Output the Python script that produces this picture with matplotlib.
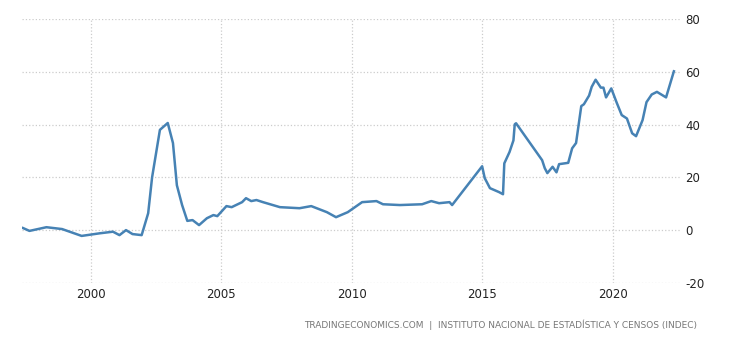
import matplotlib.pyplot as plt

plt.rcParams['axes.unicode_minus'] = False

# Argentina inflation rate, yearly % change (approximate readings)
years = [1997.4, 1997.65, 1998.3, 1998.9, 1999.65, 2000.35, 2000.85, 2001.1, 2001.35,
         2001.6, 2001.95, 2002.2, 2002.35, 2002.65, 2002.95, 2003.15, 2003.3, 2003.5,
         2003.7, 2003.9, 2004.15, 2004.45, 2004.7, 2004.85, 2005.2, 2005.4, 2005.8,
         2005.95, 2006.15, 2006.35, 2006.6, 2007.25, 2008.0, 2008.45, 2009.05, 2009.4,
         2009.85, 2010.4, 2010.95, 2011.2, 2011.85, 2012.7, 2013.05, 2013.35, 2013.75,
         2013.85, 2015.0, 2015.1, 2015.3, 2015.65, 2015.8, 2015.85, 2016.05, 2016.2,
         2016.25, 2016.3, 2017.3, 2017.4, 2017.5, 2017.7, 2017.85, 2017.95, 2018.3,
         2018.45, 2018.6, 2018.8, 2018.9, 2019.1, 2019.2, 2019.35, 2019.55, 2019.65,
         2019.75, 2019.95, 2020.15, 2020.35, 2020.55, 2020.75, 2020.9, 2021.15, 2021.3,
         2021.5, 2021.7, 2022.05, 2022.35]
rate = [0.8, -0.3, 1.1, 0.4, -2.2, -1.2, -0.6, -1.9, 0.0,
        -1.5, -1.9, 6.4, 20.0, 38.0, 40.6, 33.0, 17.0, 9.5,
        3.5, 3.8, 1.9, 4.5, 5.7, 5.3, 9.1, 8.7, 10.6,
        12.1, 11.0, 11.4, 10.6, 8.7, 8.3, 9.1, 6.8, 4.9,
        6.8, 10.6, 11.0, 9.8, 9.5, 9.8, 11.0, 10.2, 10.6,
        9.5, 24.2, 19.7, 15.9, 14.4, 13.6, 25.3, 29.6, 34.0,
        40.1, 40.5, 26.5, 23.5, 21.6, 24.0, 21.9, 25.0, 25.5,
        31.0, 33.0, 47.0, 47.7, 51.0, 54.3, 57.0, 54.0, 54.0,
        50.3, 53.7, 48.5, 43.6, 42.3, 36.7, 35.6, 41.7, 48.5,
        51.4, 52.4, 50.3, 60.2]

xticks = [2000, 2005, 2010, 2015, 2020]
yticks = [-20, 0, 20, 40, 60, 80]

fig = plt.figure(figsize=(7.3, 3.4), dpi=100)
ax = fig.add_axes([0.030, 0.168, 0.901, 0.776])

ax.plot(years, rate, color='#4682b4', linewidth=1.8, solid_joinstyle='round')

ax.set_xlim(1997.36, 2022.57)
ax.set_ylim(-20, 80)
ax.set_xticks(xticks)
ax.set_yticks(yticks)
ax.yaxis.tick_right()
ax.tick_params(length=0, labelsize=8.5, colors='#222222', pad=4)
ax.grid(True, color='#cccccc', linestyle=':', linewidth=0.9)
for s in ax.spines.values():
    s.set_visible(False)

fig.text(0.955, 0.045, 'TRADINGECONOMICS.COM  |  INSTITUTO NACIONAL DE ESTADÍSTICA Y CENSOS (INDEC)',
         ha='right', va='center', fontsize=6.5, color='#777777')

fig.savefig('out.png', dpi=100)
